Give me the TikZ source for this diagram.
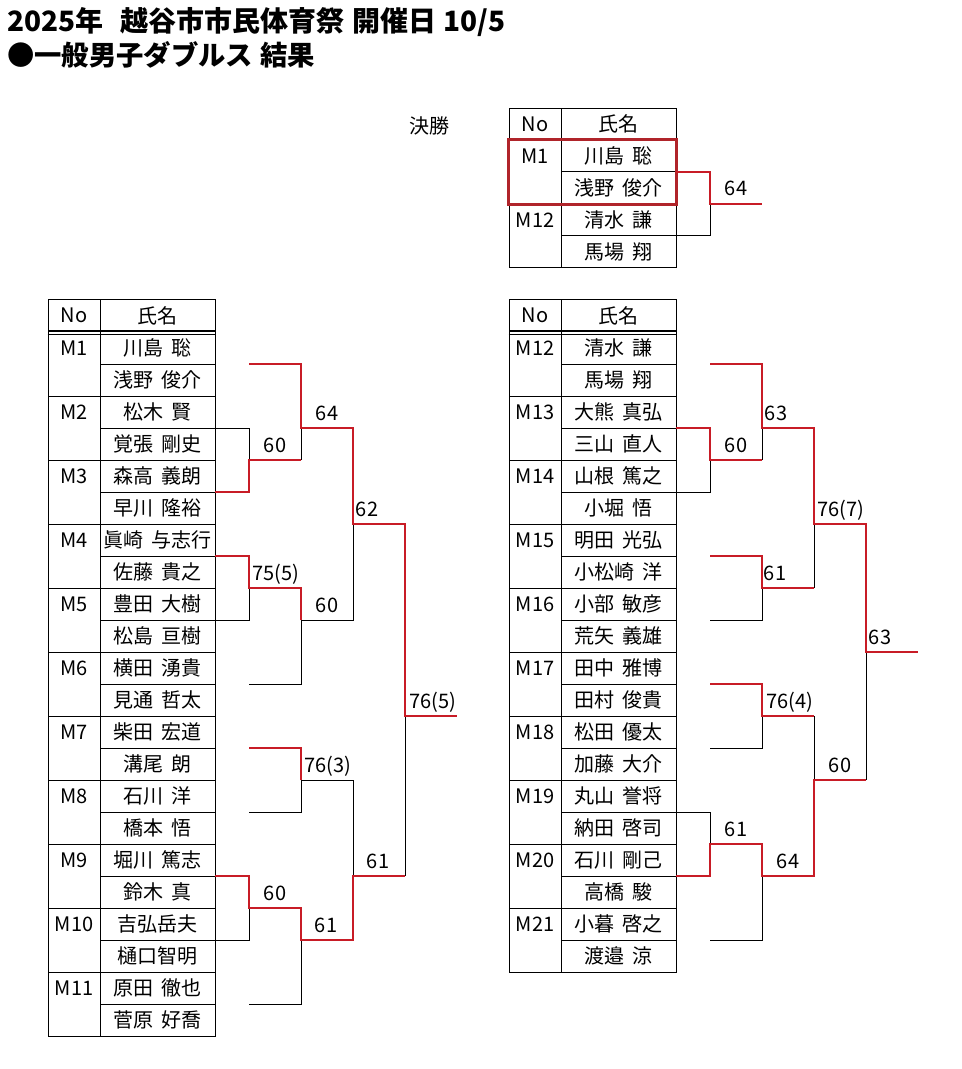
\documentclass[tikz,border=0pt]{standalone}
\usepackage{fontspec}
\setmainfont{Noto Sans CJK JP}
\usetikzlibrary{calc}
\definecolor{rd}{RGB}{200,28,38}
\definecolor{boxrd}{RGB}{176,36,42}
\newcommand\cellfont{\fontsize{15pt}{18pt}\selectfont}
\newcommand\ttlfont{\bfseries\fontsize{21pt}{25pt}\selectfont}
\newcommand\ttlfontb{\bfseries\fontsize{20.5pt}{25pt}\selectfont}
\newcommand\nmsp{\hspace{0.45em}}
\tikzset{
  ln/.style={line width=0.75pt, black},
  wn/.style={line width=1.6pt, rd, line join=miter},
  namecell/.style={draw, line width=0.75pt, minimum width=86.25pt, minimum height=24pt, inner sep=0pt, font=\cellfont},
  nocell/.style={draw, line width=0.75pt, minimum width=39pt, minimum height=48pt, inner sep=0pt},
  hdrno/.style={draw, line width=0.75pt, minimum width=39pt, minimum height=23.25pt, inner sep=0pt, font=\cellfont},
  hdrname/.style={draw, line width=0.75pt, minimum width=86.25pt, minimum height=23.25pt, inner sep=0pt, font=\cellfont},
  txt/.style={inner sep=0pt, font=\cellfont},
  score/.style={inner sep=0pt, anchor=base, font=\cellfont},
  ttl/.style={inner sep=0pt, anchor=base west, font=\ttlfont},
  ttlb/.style={inner sep=0pt, anchor=base west, font=\ttlfontb},
}
\begin{document}
\begin{tikzpicture}[x=0.75pt, y=-0.75pt]
\useasboundingbox (0,0) rectangle (961,1069);
% ---------- titles ----------
\node[ttl] (t1) at (7,32) {2025年\hspace{0.6em}越谷市市民体育祭\hspace{0.3em}開催日\hspace{0.25em}10/5};
\node[ttlb] (t2) at (7,66) {●一般男子ダブルス\hspace{0.25em}結果};
% ---------- final table ----------
\node[txt] (kessho) at (429,126) {決勝};
\node[hdrno] (fh0) at (535,124) {No};
\node[hdrname] (fh1) at (618.5,124) {氏名};
\foreach \nm [count=\i from 0] in {川島\nmsp 聡,浅野\nmsp 俊介,清水\nmsp 謙,馬場\nmsp 翔}
  \node[namecell] (fn\i) at (618.5,156+32*\i) {\nm};
\foreach \m [count=\k from 0] in {M1,M12}{
  \node[nocell] (fc\k) at (535,172+64*\k) {};
  \node[txt] (fm\k) at (535,156+64*\k) {\m};
}
\draw[boxrd, line width=1.6pt] (fc0.north west) rectangle (fn1.south east);
\coordinate (fA) at (676,172);
\coordinate (fB) at (676,236);
\coordinate (fQ) at (710,204);
\coordinate (fE) at (762,204);
\draw[ln] (fB) -| (fQ);
\draw[wn] (fA) -| (fQ) -- (fE);
\node[score] (fs) at (736,196) {64};
% ---------- left table ----------
\node[hdrno] (hL0) at (74,315.5) {No};
\node[hdrname] (hL1) at (157.5,315.5) {氏名};
\foreach \nm [count=\i from 0] in {川島\nmsp 聡,浅野\nmsp 俊介,松木\nmsp 賢,覚張\nmsp 剛史,森高\nmsp 義朗,早川\nmsp 隆裕,眞崎\nmsp 与志行,佐藤\nmsp 貴之,豊田\nmsp 大樹,松島\nmsp 亘樹,横田\nmsp 湧貴,見通\nmsp 哲太,柴田\nmsp 宏道,溝尾\nmsp 朗,石川\nmsp 洋,橋本\nmsp 悟,堀川\nmsp 篤志,鈴木\nmsp 真,吉弘岳夫,樋口智明,原田\nmsp 徹也,菅原\nmsp 好喬}
  \node[namecell] (nL\i) at (157.5,348+32*\i) {\nm};
\foreach \m [count=\k from 0] in {M1,M2,M3,M4,M5,M6,M7,M8,M9,M10,M11}{
  \node[nocell] (cL\k) at (74,364+64*\k) {};
  \node[txt] (mL\k) at (74,348+64*\k) {\m};
}
\draw[ln] ([yshift=-2.25pt]hL0.south west) -- ([yshift=-2.25pt]hL1.south east);
% ---------- right table ----------
\node[hdrno] (hR0) at (535,315.5) {No};
\node[hdrname] (hR1) at (618.5,315.5) {氏名};
\foreach \nm [count=\i from 0] in {清水\nmsp 謙,馬場\nmsp 翔,大熊\nmsp 真弘,三山\nmsp 直人,山根\nmsp 篤之,小堀\nmsp 悟,明田\nmsp 光弘,小松崎\nmsp 洋,小部\nmsp 敏彦,荒矢\nmsp 義雄,田中\nmsp 雅博,田村\nmsp 俊貴,松田\nmsp 優太,加藤\nmsp 大介,丸山\nmsp 誉将,納田\nmsp 啓司,石川\nmsp 剛己,高橋\nmsp 駿,小暮\nmsp 啓之,渡邉\nmsp 涼}
  \node[namecell] (nR\i) at (618.5,348+32*\i) {\nm};
\foreach \m [count=\k from 0] in {M12,M13,M14,M15,M16,M17,M18,M19,M20,M21}{
  \node[nocell] (cR\k) at (535,364+64*\k) {};
  \node[txt] (mR\k) at (535,348+64*\k) {\m};
}
\draw[ln] ([yshift=-2.25pt]hR0.south west) -- ([yshift=-2.25pt]hR1.south east);
% ---------- left bracket ----------
\coordinate (L1) at (249,364);
\coordinate (L2) at (215,428);
\coordinate (L3) at (215,492);
\coordinate (L4) at (215,556);
\coordinate (L5) at (215,620);
\coordinate (L6) at (249,684);
\coordinate (L7) at (249,748);
\coordinate (L8) at (249,812);
\coordinate (L9) at (215,876);
\coordinate (L10) at (215,940);
\coordinate (L11) at (249,1004);
\coordinate (A23) at (249,460);
\coordinate (A1) at (301,428);
\coordinate (A45) at (249,588);
\coordinate (A456) at (301,620);
\coordinate (B1) at (353,524);
\coordinate (A78) at (301,780);
\coordinate (A910) at (249,908);
\coordinate (A911) at (301,940);
\coordinate (B2) at (353,876);
\coordinate (C) at (405,716);
\coordinate (LE) at (457,716);
\draw[ln] (L2) -| (A23);
\draw[ln] (L5) -| (A45);
\draw[ln] (L6) -| (A456);
\draw[ln] (A456) -| (B1);
\draw[ln] (A23 -| A1) -- (A1);
\draw[ln] (L8) -| (A78);
\draw[ln] (A78) -| (B2);
\draw[ln] (L10) -| (A910);
\draw[ln] (L11) -| (A911);
\draw[ln] (B2 -| C) -- (C);
\draw[wn] (L1) -| (A1) -| (B1) -| (C) -- (LE);
\draw[wn] (L3) -| (A23) -- (A23 -| A1);
\draw[wn] (L4) -| (A45) -| (A456);
\draw[wn] (L7) -| (A78);
\draw[wn] (L9) -| (A910) -| (A911) -| (B2) -- (B2 -| C);
\node[score] (sL1) at (275,452) {60};
\node[score] (sL2) at (327,420) {64};
\node[score] (sL3) at (367,516) {62};
\node[score] (sL4) at (276,580) {75(5)};
\node[score] (sL5) at (327,612) {60};
\node[score] (sL6) at (433,708) {76(5)};
\node[score] (sL7) at (328,772) {76(3)};
\node[score] (sL8) at (378,868) {61};
\node[score] (sL9) at (275,900) {60};
\node[score] (sL10) at (326,932) {61};
% ---------- right bracket ----------
\coordinate (R12) at (710,364);
\coordinate (R13) at (676,428);
\coordinate (R14) at (676,492);
\coordinate (R15) at (710,556);
\coordinate (R16) at (710,620);
\coordinate (R17) at (710,684);
\coordinate (R18) at (710,748);
\coordinate (R19) at (676,812);
\coordinate (R20) at (676,876);
\coordinate (R21) at (710,940);
\coordinate (Q1314) at (710,460);
\coordinate (Q12) at (762,428);
\coordinate (Q1516) at (762,588);
\coordinate (P1) at (814,524);
\coordinate (Q1718) at (762,716);
\coordinate (Q1920) at (710,844);
\coordinate (Q1921) at (762,876);
\coordinate (P2) at (814,780);
\coordinate (F) at (866,652);
\coordinate (RE) at (918,652);
\draw[ln] (R14) -| (Q1314);
\draw[ln] (Q1314 -| Q12) -- (Q12);
\draw[ln] (R16) -| (Q1516);
\draw[ln] (Q1516 -| P1) -- (P1);
\draw[ln] (R18) -| (Q1718);
\draw[ln] (Q1718 -| P2) -- (P2);
\draw[ln] (R19) -| (Q1920);
\draw[ln] (R21) -| (Q1921);
\draw[ln] (P2 -| F) -- (F);
\draw[wn] (R12) -| (Q12) -| (P1) -| (F) -- (RE);
\draw[wn] (R13) -| (Q1314) -- (Q1314 -| Q12);
\draw[wn] (R15) -| (Q1516) -- (Q1516 -| P1);
\draw[wn] (R17) -| (Q1718) -- (Q1718 -| P2);
\draw[wn] (R20) -| (Q1920) -| (Q1921) -| (P2) -- (P2 -| F);
\node[score] (sR1) at (776,420) {63};
\node[score] (sR2) at (736,452) {60};
\node[score] (sR3) at (841,516) {76(7)};
\node[score] (sR4) at (775,580) {61};
\node[score] (sR5) at (880,644) {63};
\node[score] (sR6) at (790,708) {76(4)};
\node[score] (sR7) at (840,772) {60};
\node[score] (sR8) at (736,836) {61};
\node[score] (sR9) at (788,868) {64};
\end{tikzpicture}
\end{document}
